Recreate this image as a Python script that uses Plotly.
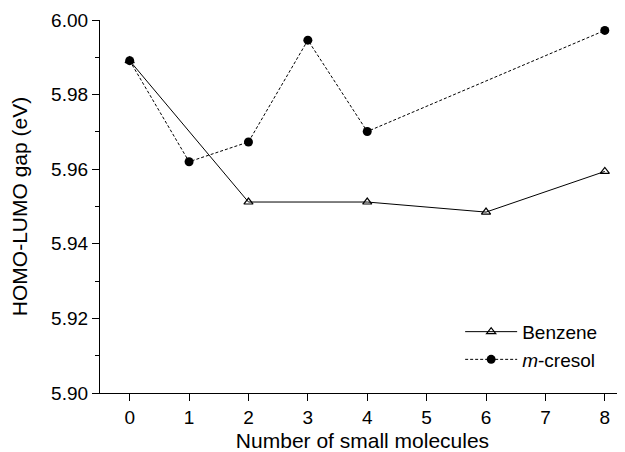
import plotly.graph_objects as go

benzene_x = [0, 2, 4, 6, 8]
benzene_y = [5.9891, 5.9512, 5.9512, 5.9485, 5.9594]
cresol_x = [0, 1, 2, 3, 4, 8]
cresol_y = [5.9891, 5.9620, 5.9673, 5.9946, 5.9701, 5.9972]
x_ticks = [0, 1, 2, 3, 4, 5, 6, 7, 8]
y_ticks = [5.90, 5.92, 5.94, 5.96, 5.98, 6.00]
y_tick_labels = ["5.90", "5.92", "5.94", "5.96", "5.98", "6.00"]

FONT = "Liberation Sans, Arial, sans-serif"

fig = go.Figure()
fig.add_trace(go.Scatter(
    x=benzene_x, y=benzene_y, name="Benzene", mode="lines+markers",
    line=dict(color="black", width=1),
    marker=dict(symbol="triangle-up-open", size=8, color="black", line=dict(width=1.2)),
))
fig.add_trace(go.Scatter(
    x=cresol_x, y=cresol_y, name="<i>m</i>-cresol", mode="lines+markers",
    line=dict(color="black", width=1, dash="3px,2px"),
    marker=dict(symbol="circle", size=9, color="black"),
))

fig.update_layout(
    width=617, height=444,
    margin=dict(l=92, r=0, t=12, b=59, autoexpand=False),
    paper_bgcolor="white", plot_bgcolor="white",
    font=dict(family=FONT, size=19, color="black"),
    showlegend=True,
    legend=dict(x=0.686, y=0.215, xanchor="left", yanchor="top",
                bgcolor="rgba(0,0,0,0)", font=dict(size=19),
                tracegroupgap=0, itemwidth=52),
    xaxis=dict(
        range=[-0.5, 8.34], tickmode="array", tickvals=x_ticks,
        ticks="outside", ticklen=7, tickwidth=1, tickcolor="black",
        showline=True, linecolor="black", linewidth=1.2,
        showgrid=False, zeroline=False, automargin=False,
        title=dict(text="Number of small molecules", font=dict(size=21), standoff=6),
        tickfont=dict(size=19),
    ),
    xaxis2=dict(
        range=[-0.5, 8.34], tickmode="array", tickvals=x_ticks,
        overlaying="x", side="top", anchor="y",
        ticks="inside", ticklen=7, tickwidth=1, tickcolor="black",
        showline=True, linecolor="black", linewidth=1.2,
        showticklabels=False, showgrid=False, zeroline=False,
    ),
    yaxis=dict(
        range=[5.90, 6.00], tickmode="array", tickvals=y_ticks, ticktext=y_tick_labels,
        ticks="outside", ticklen=7, tickwidth=1, tickcolor="black",
        minor=dict(dtick=0.01, ticks="outside", ticklen=4, tickcolor="black", showgrid=False),
        showline=True, linecolor="black", linewidth=1.2,
        showgrid=False, zeroline=False, automargin=False,
        title=dict(text="HOMO-LUMO gap (eV)", font=dict(size=21), standoff=18),
        tickfont=dict(size=19),
    ),
)

fig.write_html("out.html")
